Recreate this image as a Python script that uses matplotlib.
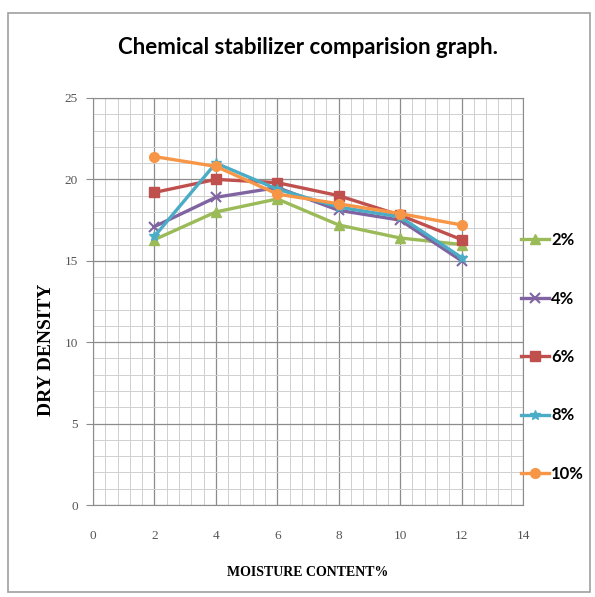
import matplotlib
matplotlib.use("Agg")
import matplotlib.pyplot as plt
from matplotlib.patches import Rectangle
from matplotlib.ticker import MultipleLocator

moisture = [2, 4, 6, 8, 10, 12]
s2 = [16.3, 18.0, 18.8, 17.2, 16.4, 16.0]
s4 = [17.1, 18.9, 19.5, 18.1, 17.5, 15.0]
s6 = [19.2, 20.0, 19.8, 19.0, 17.8, 16.3]
s8 = [16.5, 21.0, 19.4, 18.3, 17.7, 15.2]
s10 = [21.4, 20.8, 19.1, 18.5, 17.9, 17.2]
labels = ["2%", "4%", "6%", "8%", "10%"]
series = [s2, s4, s6, s8, s10]
colors = ["#9BBB59", "#8064A2", "#C0504D", "#4BACC6", "#F79646"]
markers = ["^", "x", "s", "*", "o"]

fig = plt.figure(figsize=(5.95, 5.97), dpi=100)
fig.patch.set_facecolor("white")
fig.patches.append(Rectangle((8/595, 5/597), 582/595, 579/597, transform=fig.transFigure,
                             fill=False, edgecolor="#A0A0A0", linewidth=1.2))

ax = fig.add_axes([93/595, 92/597, 430/595, 407/597])
for vals, lab, c, m in zip(series, labels, colors, markers):
    ax.plot(moisture, vals, color=c, marker=m, markersize=7, linewidth=2.4,
            markeredgewidth=1.5 if m == "x" else 1.0, label=lab)

ax.set_xlim(0, 14)
ax.set_ylim(0, 25)
ax.xaxis.set_major_locator(MultipleLocator(2))
ax.yaxis.set_major_locator(MultipleLocator(5))
ax.xaxis.set_minor_locator(MultipleLocator(0.4))
ax.yaxis.set_minor_locator(MultipleLocator(1))
ax.grid(which="major", color="#8C8C8C", linewidth=0.9)
ax.grid(which="minor", color="#D0D0D0", linewidth=0.7)
ax.set_axisbelow(True)
for sp in ax.spines.values():
    sp.set_color("#8C8C8C")
ax.tick_params(which="both", length=0, colors="#555555", labelsize=9.5)
ax.tick_params(axis="x", which="major", pad=18)
ax.tick_params(axis="y", which="major", length=5, color="#8C8C8C", pad=6)
for t in ax.get_xticklabels() + ax.get_yticklabels():
    t.set_fontfamily("Liberation Serif")

ax.set_title("Chemical stabilizer comparision graph.", fontsize=16, fontweight="bold",
             family="Lato", pad=32)
ax.set_xlabel("MOISTURE CONTENT%", fontsize=10, fontweight="bold", family="Liberation Serif",
              labelpad=17)
ax.set_ylabel("DRY DENSITY", fontsize=14, fontweight="bold", family="Liberation Serif")
ax.yaxis.set_label_coords(-0.089, (597 - 92 - 350) / 407)

fig.legend(loc="center left", bbox_to_anchor=(506/595, (597-357)/597), frameon=False,
           prop={"family": "Lato", "weight": "bold", "size": 12},
           labelspacing=2.55, handlelength=1.7, handletextpad=0.1, markerscale=1.0)

fig.savefig("out.png", dpi=100, facecolor="white")
